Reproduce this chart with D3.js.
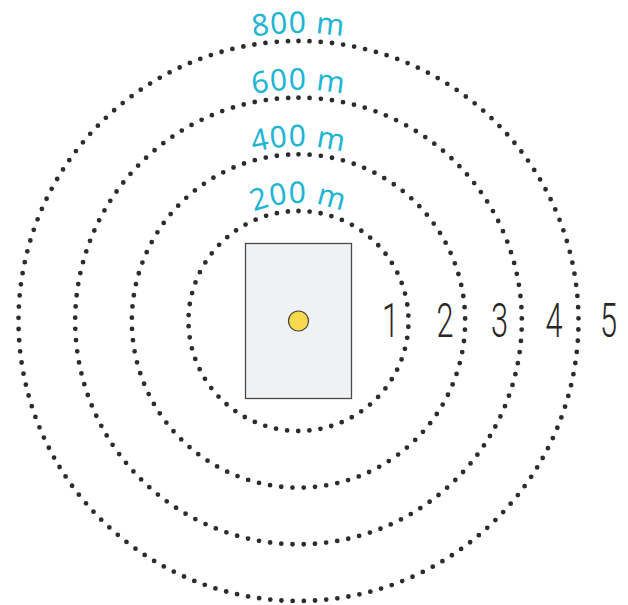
<!DOCTYPE html>
<html><head><meta charset="utf-8">
<script src="https://cdn.jsdelivr.net/npm/d3@7"></script>
<style>body{margin:0;background:#fff}svg{display:block}</style>
</head><body>
<script>
const distances = [200, 400, 600, 800];
const ringLabels = ["200 m", "400 m", "600 m", "800 m"];
const zoneLabels = ["1", "2", "3", "4", "5"];
const zoneIndex = [1, 2, 3, 4, 5];

const W = 628, H = 605, cx = 298.5, cy = 321;
const svg = d3.select("body").append("svg").attr("width", W).attr("height", H);

const r = d3.scaleLinear().domain([200, 800]).range([110, 280]);

// dotted rings
const circlePath = rad => `M${cx},${cy - rad} A${rad},${rad} 0 1,1 ${cx - 0.01},${cy - rad}`;
svg.selectAll("path.ring").data(distances).join("path")
  .attr("class", "ring")
  .attr("d", d => circlePath(r(d)))
  .attr("fill", "none").attr("stroke", "#2f2b2b")
  .attr("stroke-width", 4.8).attr("stroke-linecap", "round")
  .attr("stroke-dasharray", d => { const c = 2 * Math.PI * r(d); const n = Math.round(c / 11.2); return `0 ${c / n}`; });

// text arcs for labels
const defs = svg.append("defs");
distances.forEach((d, i) => {
  const rr = r(d) + 8;
  const a0 = -Math.PI * 0.75, a1 = -Math.PI * 0.25;
  defs.append("path").attr("id", "tp" + i)
    .attr("d", `M${cx + rr * Math.cos(a0)},${cy + rr * Math.sin(a0)} A${rr},${rr} 0 0,1 ${cx + rr * Math.cos(a1)},${cy + rr * Math.sin(a1)}`);
});
svg.selectAll("text.rl").data(ringLabels).join("text")
  .attr("class", "rl")
  .attr("font-family", "'Noto Sans', sans-serif").attr("font-size", 30)
  .attr("fill", "#1fb5d3").attr("letter-spacing", 0.8)
  .append("textPath").attr("href", (d, i) => "#tp" + i)
  .attr("startOffset", "50%").attr("text-anchor", "middle")
  .text(d => d);

// building
svg.append("rect").attr("x", 245.5).attr("y", 243.5).attr("width", 106).attr("height", 155)
  .attr("fill", "#f0f1f3").attr("stroke", "#4a4a4a").attr("stroke-width", 1.3);
svg.append("circle").attr("cx", cx).attr("cy", 321).attr("r", 10)
  .attr("fill", "#f8d84d").attr("stroke", "#444").attr("stroke-width", 1.2);

// zone numbers
const zx = d3.scaleLinear().domain([1, 5]).range([r(200) - 18, r(800) + 30]);
svg.selectAll("text.zn").data(zoneLabels).join("text")
  .attr("class", "zn")
  .attr("transform", (d, i) => `translate(${cx + zx(zoneIndex[i])},337) scale(0.64,1)`)
  .attr("text-anchor", "middle")
  .attr("font-family", "Roboto, sans-serif").attr("font-weight", 300)
  .attr("font-size", 48).attr("fill", "#2b2626")
  .text(d => d);
</script>
</body></html>
